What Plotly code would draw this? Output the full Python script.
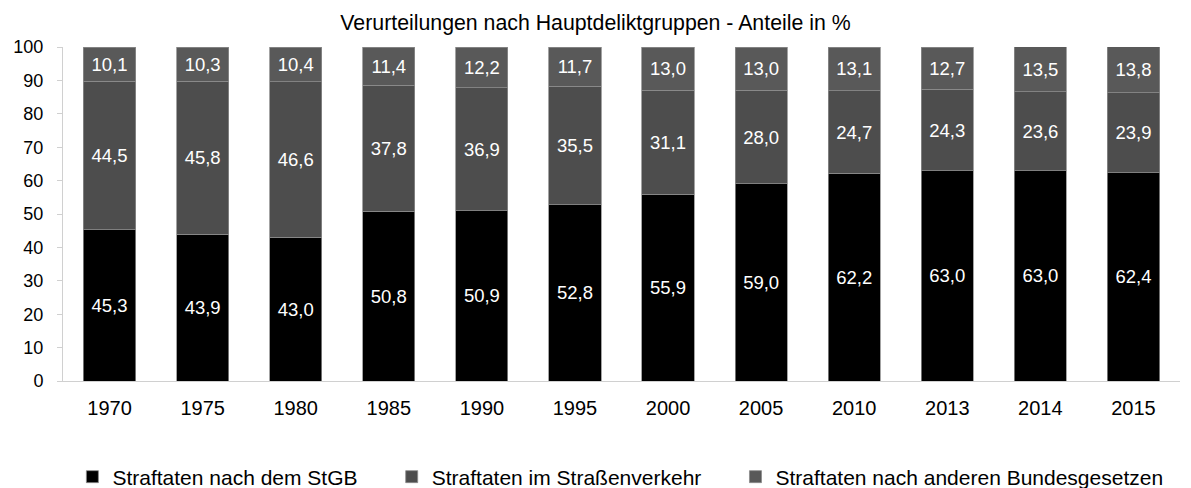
import plotly.graph_objects as go

years = ["1970", "1975", "1980", "1985", "1990", "1995", "2000", "2005", "2010", "2013", "2014", "2015"]
stgb = [45.3, 43.9, 43.0, 50.8, 50.9, 52.8, 55.9, 59.0, 62.2, 63.0, 63.0, 62.4]
verkehr = [44.5, 45.8, 46.6, 37.8, 36.9, 35.5, 31.1, 28.0, 24.7, 24.3, 23.6, 23.9]
andere = [10.1, 10.3, 10.4, 11.4, 12.2, 11.7, 13.0, 13.0, 13.1, 12.7, 13.5, 13.8]

names = ["Straftaten nach dem StGB", "Straftaten im Straßenverkehr", "Straftaten nach anderen Bundesgesetzen"]
colors = ["#000000", "#4d4d4d", "#595959"]
font = "Liberation Sans, Arial, sans-serif"
pad = "\u00a0" * 5

fig = go.Figure()
for i, (name, vals, col) in enumerate(zip(names, [stgb, verkehr, andere], colors)):
    fig.add_trace(go.Bar(
        x=years, y=vals, name=name + (pad if i < 2 else ""),
        marker=dict(color=col, line=dict(color="#8c8c8c", width=0.8)),
        text=[f"{v:.1f}".replace(".", ",") for v in vals],
        textposition="inside", insidetextanchor="middle",
        textfont=dict(color="white", size=18.5, family=font),
    ))

fig.update_layout(
    barmode="stack", bargap=0.44,
    width=1191, height=488,
    margin=dict(l=63, r=11, t=47, b=107, autoexpand=False),
    paper_bgcolor="white", plot_bgcolor="white",
    font=dict(family=font, color="#000000"),
    title=dict(text="Verurteilungen nach Hauptdeliktgruppen - Anteile in %",
               x=0.5, xanchor="center", y=1 - 23 / 488, yanchor="middle",
               font=dict(size=21.3, family=font, color="#000000")),
    legend=dict(orientation="h", x=0.499, xanchor="center", y=-96 / 334, yanchor="middle",
                font=dict(size=21, family=font), traceorder="normal",
                itemwidth=30),
    showlegend=True,
)
fig.update_xaxes(showline=True, linecolor="#d0d0d0", linewidth=1, ticks="",
                 tickfont=dict(size=20, family=font), ticklabelstandoff=9,
                 automargin=False)
fig.update_yaxes(range=[0, 100], dtick=10, showgrid=False, showline=True,
                 linecolor="#d0d0d0", linewidth=1, ticks="outside", ticklen=5,
                 tickcolor="#d0d0d0", tickfont=dict(size=18, family=font), zeroline=False,
                 ticklabelstandoff=10, automargin=False)

fig.write_html("out.html", config={"displayModeBar": False},
               post_script="document.body.style.margin='0';document.body.style.overflow='hidden';")
